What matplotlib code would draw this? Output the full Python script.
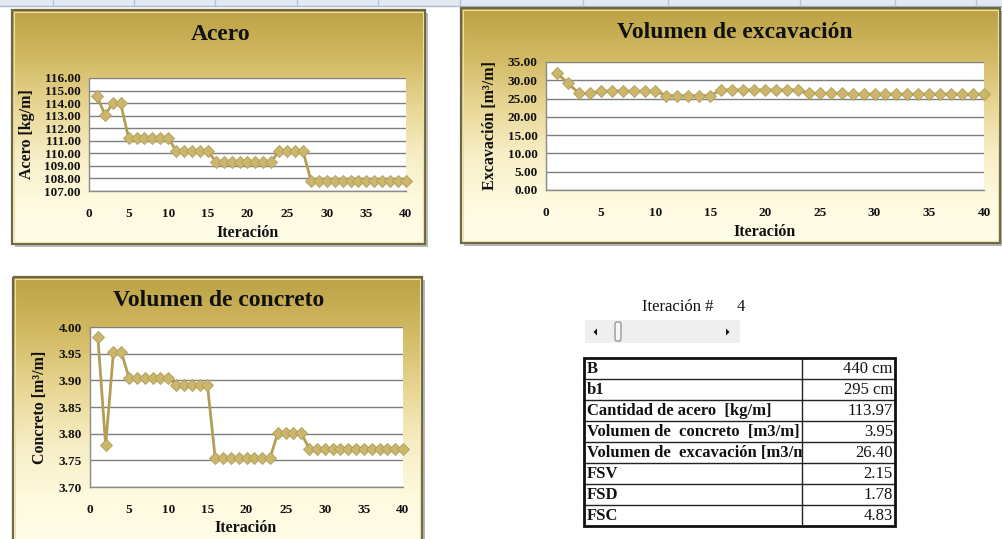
import numpy as np
import matplotlib
matplotlib.use("Agg")
import matplotlib.pyplot as plt
from matplotlib.patches import Rectangle, FancyBboxPatch, Polygon
from matplotlib.colors import LinearSegmentedColormap

# ---------------- data ----------------
iteraciones = list(range(1, 41))
acero = [114.60, 113.05, 113.97, 113.97, 111.20, 111.20, 111.20, 111.20, 111.20, 111.20,
         110.20, 110.20, 110.20, 110.20, 110.20, 109.33, 109.33, 109.33, 109.33, 109.33,
         109.33, 109.33, 109.33, 110.20, 110.20, 110.20, 110.20, 107.83, 107.83, 107.83,
         107.83, 107.83, 107.83, 107.83, 107.83, 107.83, 107.83, 107.83, 107.83, 107.83]
excavacion = [32.00, 29.20, 26.45, 26.40, 27.05, 27.05, 27.05, 27.05, 27.05, 27.05,
              25.80, 25.80, 25.80, 25.80, 25.80, 27.35, 27.35, 27.35, 27.35, 27.35,
              27.35, 27.35, 27.35, 26.45, 26.45, 26.45, 26.45, 26.20, 26.20, 26.20,
              26.20, 26.20, 26.20, 26.20, 26.20, 26.20, 26.20, 26.20, 26.20, 26.20]
concreto = [3.982, 3.778, 3.954, 3.953, 3.904, 3.904, 3.904, 3.904, 3.904, 3.904,
            3.892, 3.892, 3.892, 3.892, 3.892, 3.754, 3.754, 3.754, 3.754, 3.754,
            3.754, 3.754, 3.754, 3.801, 3.801, 3.801, 3.801, 3.772, 3.772, 3.772,
            3.772, 3.772, 3.772, 3.772, 3.772, 3.772, 3.772, 3.772, 3.772, 3.772]

tabla_nombres = ["B", "b1", "Cantidad de acero  [kg/m]", "Volumen de  concreto  [m3/m]",
                 "Volumen de  excavación [m3/m]", "FSV", "FSD", "FSC"]
tabla_valores = ["440 cm", "295 cm", "113.97", "3.95", "26.40", "2.15", "1.78", "4.83"]
iteracion_actual = 4

# ---------------- figure ----------------
W, H = 1003, 539
fig = plt.figure(figsize=(W / 100, H / 100), dpi=100)
fig.patch.set_facecolor("white")
bg = fig.add_axes([0, 0, 1, 1], zorder=0)
bg.set_xlim(0, W)
bg.set_ylim(H, 0)
bg.axis("off")

FONT = "Liberation Serif"
TXT = "#111111"

def frect(x0, y0, x1, y1):
    return [x0 / W, 1 - y1 / H, (x1 - x0) / W, (y1 - y0) / H]

# top strip (spreadsheet column headers)
bg.add_patch(Rectangle((0, 0), W, 5.5, facecolor="#e3e9f2", edgecolor="none"))
bg.plot([0, W], [5.5, 5.5], color="#a9bcd2", lw=1)
for xs in [53, 134, 215, 297, 378, 460, 583, 668, 800, 895, 976]:
    bg.plot([xs, xs], [0, 5.5], color="#b4c3d6", lw=1)

grad_cmap = LinearSegmentedColormap.from_list(
    "oro", [(0.0, "#bca244"), (0.22, "#d3bb66"), (0.42, "#e9d796"),
            (0.62, "#f7eec6"), (0.82, "#fffadf"), (1.0, "#fffde9")])

def frame(x0, y0, x1, y1):
    bg.add_patch(Rectangle((x0 + 3, y0 + 3), x1 - x0, y1 - y0,
                           facecolor="#b8b8b8", edgecolor="none", zorder=1))
    g = grad_cmap(np.linspace(0, 1, 256))[:, :3].reshape(256, 1, 3)
    bg.imshow(g, extent=(x0, x1, y1, y0), aspect="auto", origin="upper",
              zorder=2, interpolation="bilinear")
    bg.add_patch(Rectangle((x0, y0), x1 - x0, y1 - y0, facecolor="none",
                           edgecolor="#6d6745", lw=1.6, zorder=3))
    bg.add_patch(Rectangle((x0 + 2, y0 + 2), x1 - x0 - 4, y1 - y0 - 4, facecolor="none",
                           edgecolor="#ece0a4", lw=0.8, zorder=3))

LINE_C = "#b39e56"
MARK_C = "#cbb66c"

def chart(box, y, ylim, yticks, fmt):
    ax = fig.add_axes(frect(*box), zorder=2)
    ax.set_facecolor("white")
    ax.plot(iteraciones, y, color=LINE_C, lw=2.0, marker="D", markersize=6.5,
            markerfacecolor=MARK_C, markeredgecolor="#b09c58", markeredgewidth=0.6,
            clip_on=False, zorder=3)
    ax.set_xlim(0, 40)
    ax.set_ylim(*ylim)
    ax.set_xticks(range(0, 41, 5))
    ax.set_yticks(yticks)
    ax.set_yticklabels([fmt % v for v in yticks])
    ax.grid(axis="y", color="#7f7f7f", lw=1.0)
    ax.set_axisbelow(True)
    for s in ["top", "right"]:
        ax.spines[s].set_visible(False)
    for s in ["left", "bottom"]:
        ax.spines[s].set_color("#8a8a8a")
        ax.spines[s].set_linewidth(1.0)
    ax.tick_params(axis="both", length=0, colors=TXT)
    ax.tick_params(axis="y", pad=6)
    ax.tick_params(axis="x", pad=12)
    for lab in ax.get_xticklabels() + ax.get_yticklabels():
        lab.set_fontfamily(FONT)
        lab.set_fontweight("bold")
        lab.set_fontsize(9.5)
    return ax

# ---- chart 1: Acero ----
frame(12, 10, 425, 244)
chart((89, 78, 406, 191), acero, (107, 116), list(range(107, 117)), "%.2f")
bg.text(221, 34, "Acero", ha="center", va="center", fontsize=17, fontweight="bold",
        family=FONT, color=TXT, zorder=5)
bg.text(27, 134, "Acero [kg/m]", ha="center", va="center", rotation=90, fontsize=11.5,
        fontweight="bold", family=FONT, color=TXT, zorder=5)
bg.text(248, 233, "Iteración", ha="center", va="center", fontsize=11.5,
        fontweight="bold", family=FONT, color=TXT, zorder=5)

# ---- chart 2: Volumen de excavación ----
frame(461, 8, 1000, 243)
chart((546, 62, 984, 190), excavacion, (0, 35), list(range(0, 36, 5)), "%.2f")
bg.text(735, 32, "Volumen de excavación", ha="center", va="center", fontsize=17,
        fontweight="bold", family=FONT, color=TXT, zorder=5)
bg.text(490, 126, "Excavación [m³/m]", ha="center", va="center", rotation=90,
        fontsize=11.5, fontweight="bold", family=FONT, color=TXT, zorder=5)
bg.text(765, 232, "Iteración", ha="center", va="center", fontsize=11.5,
        fontweight="bold", family=FONT, color=TXT, zorder=5)

# ---- chart 3: Volumen de concreto ----
frame(13, 277, 422, 548)
chart((90, 327, 403, 487), concreto, (3.70, 4.00),
      [3.70, 3.75, 3.80, 3.85, 3.90, 3.95, 4.00], "%.2f")
bg.text(219, 301, "Volumen de concreto", ha="center", va="center", fontsize=17,
        fontweight="bold", family=FONT, color=TXT, zorder=5)
bg.text(40, 407, "Concreto [m³/m]", ha="center", va="center", rotation=90,
        fontsize=11.5, fontweight="bold", family=FONT, color=TXT, zorder=5)
bg.text(246, 528, "Iteración", ha="center", va="center", fontsize=11.5,
        fontweight="bold", family=FONT, color=TXT, zorder=5)

# ---- slider ----
bg.text(642, 307, "Iteración #", ha="left", va="center", fontsize=12, family=FONT,
        color=TXT, zorder=5)
bg.text(741, 307, str(iteracion_actual), ha="center", va="center", fontsize=12,
        family=FONT, color=TXT, zorder=5)
bg.add_patch(Rectangle((585, 320), 155, 23, facecolor="#efefef", edgecolor="none", zorder=4))
bg.add_patch(Polygon([[597, 328.5], [597, 335.5], [593.5, 332]], closed=True,
                     facecolor="#111111", edgecolor="none", zorder=5))
bg.add_patch(Polygon([[726, 328.5], [726, 335.5], [729.5, 332]], closed=True,
                     facecolor="#111111", edgecolor="none", zorder=5))
bg.add_patch(FancyBboxPatch((615, 322), 6, 19, boxstyle="round,pad=0,rounding_size=2",
                            facecolor="#f6f6f6", edgecolor="#8c8c8c", lw=0.9, zorder=5))

# ---- table ----
tx0, tx1, tcol = 584, 895, 802
ty0, rh = 358, 21
n = len(tabla_nombres)
clip = Rectangle((tx0, ty0), tcol - tx0, rh * n, transform=bg.transData,
                 facecolor="none", edgecolor="none")
bg.add_patch(Rectangle((tx0, ty0), tx1 - tx0, rh * n, facecolor="white",
                       edgecolor="none", zorder=4))
for i, (nm, val) in enumerate(zip(tabla_nombres, tabla_valores)):
    yc = ty0 + rh * (i + 0.5)
    t = bg.text(587, yc + 0.5, nm, ha="left", va="center", fontsize=12,
                fontweight="bold", family=FONT, color=TXT, zorder=6, clip_on=True)
    t.set_clip_path(clip)
    bg.text(893, yc + 0.5, val, ha="right", va="center", fontsize=12,
            family=FONT, color=TXT, zorder=6)
    if i > 0:
        bg.plot([tx0, tx1], [ty0 + rh * i, ty0 + rh * i], color="#222222", lw=1.0, zorder=6)
bg.plot([tcol, tcol], [ty0, ty0 + rh * n], color="#222222", lw=1.0, zorder=7)
bg.add_patch(Rectangle((tx0, ty0), tx1 - tx0, rh * n, facecolor="none",
                       edgecolor="#111111", lw=2.0, zorder=7))

fig.savefig("out.png", dpi=100, facecolor="white")
